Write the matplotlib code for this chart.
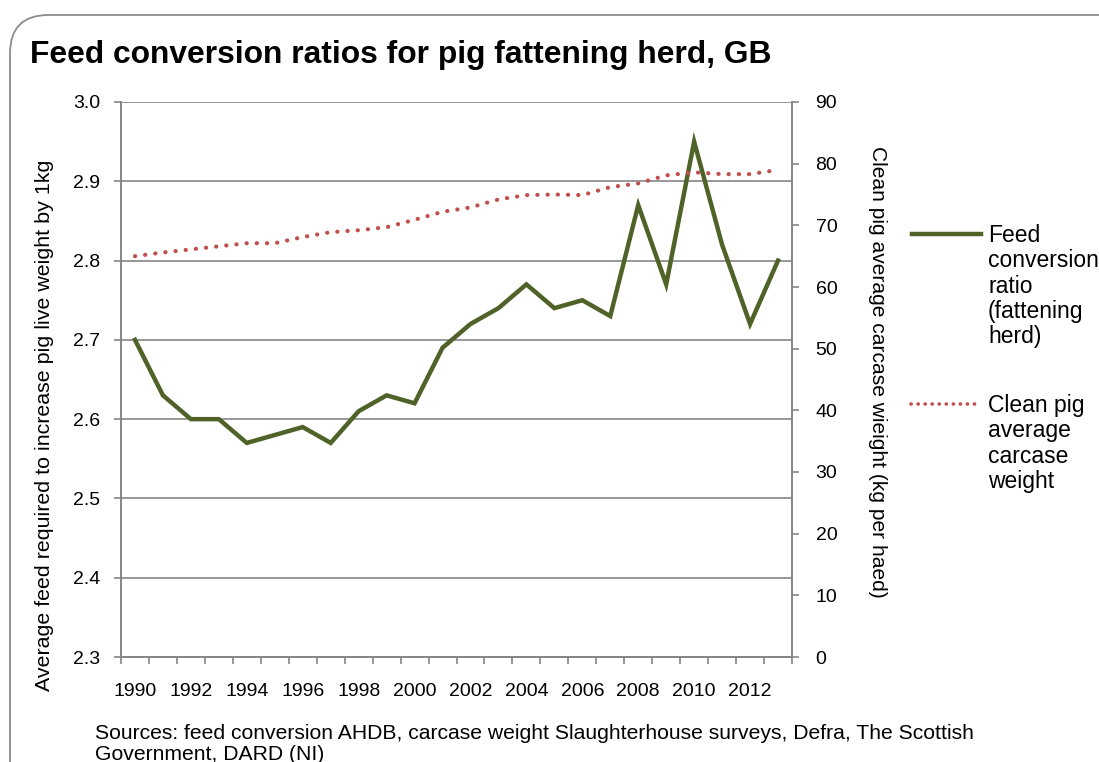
import matplotlib
matplotlib.use('Agg')
import matplotlib.pyplot as plt
import numpy as np
from matplotlib.lines import Line2D
from matplotlib.patches import FancyBboxPatch

plt.rcParams['font.family'] = ['Liberation Sans', 'DejaVu Sans']

# Data
years = list(range(1990, 2014))
feed_conversion = [2.70, 2.63, 2.60, 2.60, 2.57, 2.58, 2.59, 2.57, 2.61, 2.63, 2.62, 2.69,
                   2.72, 2.74, 2.77, 2.74, 2.75, 2.73, 2.87, 2.77, 2.95, 2.82, 2.72, 2.80]
carcase_weight = [65.0, 65.6, 66.1, 66.6, 67.1, 67.1, 68.1, 68.9, 69.2, 69.7, 70.9, 72.2,
                  72.9, 74.2, 74.9, 75.0, 74.9, 76.2, 76.8, 78.1, 78.6, 78.3, 78.3, 79.0]
left_ticks = [2.3, 2.4, 2.5, 2.6, 2.7, 2.8, 2.9, 3.0]
right_ticks = [0, 10, 20, 30, 40, 50, 60, 70, 80, 90]
year_labels = [str(y) for y in years[::2]]

title = 'Feed conversion ratios for pig fattening herd, GB'
left_label = 'Average feed required to increase pig live weight by 1kg'
right_label = 'Clean pig average carcase wieight (kg per haed)'
feed_name = 'Feed\nconversion\nratio\n(fattening\nherd)'
carcase_name = 'Clean pig\naverage\ncarcase\nweight'
sources = ('Sources: feed conversion AHDB, carcase weight Slaughterhouse surveys, Defra, The Scottish\n'
           'Government, DARD (NI)')

green = '#4F6228'
red = '#C0504D'
grey = '#868686'

W, H = 1099, 762
fig = plt.figure(figsize=(W / 100, H / 100), dpi=100)

# rounded frame round the whole chart
frame = FancyBboxPatch((10 / W, 1 - 1000 / H), 1300 / W, (1000 - 15) / H,
                       boxstyle='round,pad=0,rounding_size=0.035',
                       transform=fig.transFigure, fill=False, edgecolor='#8C8C8C', lw=1.3,
                       mutation_aspect=W / H)
fig.add_artist(frame)

ax = fig.add_axes([121 / W, 1 - 657 / H, (792 - 121) / W, (657 - 102) / H])
ax2 = ax.twinx()

x = np.arange(len(years))
ax.plot(x, feed_conversion, color=green, lw=3.2, solid_joinstyle='miter', zorder=3)
ax2.plot(x, carcase_weight, color=red, lw=3.0, linestyle=(0, (0.05, 2.4)),
         dash_capstyle='round', zorder=3)

ax.set_xlim(-0.5, len(years) - 0.5)
ax.set_ylim(2.3, 3.0)
ax2.set_ylim(0, 90)
ax.set_yticks(left_ticks)
ax.set_yticklabels(['%.1f' % t for t in left_ticks])
ax2.set_yticks(right_ticks)

ax.set_xticks(x[::2])
ax.set_xticklabels(year_labels)
ax.set_xticks(np.arange(len(years) + 1) - 0.5, minor=True)
ax.tick_params(axis='x', which='major', length=0, pad=19, labelsize=14)
ax.tick_params(axis='x', which='minor', length=5, width=1.2, color=grey, direction='out')
ax.tick_params(axis='y', length=5, width=1.2, color=grey, pad=10, labelsize=14)
ax2.tick_params(axis='y', length=5, width=1.2, color=grey, pad=12, labelsize=14)

ax.grid(axis='y', color=grey, lw=1.2)
ax.set_axisbelow(True)
for a in (ax, ax2):
    a.spines['top'].set_visible(False)
    for s in ('left', 'right', 'bottom'):
        a.spines[s].set_color(grey)
        a.spines[s].set_linewidth(1.2)

fig.text(30 / W, 1 - 55 / H, title, fontsize=22.9, fontweight='bold', va='center', ha='left')
fig.text(45 / W, 1 - 425 / H, left_label, rotation=90, fontsize=15.4, va='center', ha='center')
fig.text(878 / W, 1 - 372 / H, right_label, rotation=-90, fontsize=15.1, va='center', ha='center')

# legend drawn by hand to the right of the plot
fig.add_artist(Line2D([912 / W, 981 / W], [1 - 234 / H, 1 - 234 / H], color=green, lw=3.2,
                      transform=fig.transFigure))
fig.add_artist(Line2D([911 / W, 981 / W], [1 - 404 / H, 1 - 404 / H], color=red, lw=2.6,
                      linestyle=(0, (0.05, 1.9)), dash_capstyle='round',
                      transform=fig.transFigure))
fig.text(988 / W, 1 - 224 / H, feed_name, fontsize=16.5, va='top', ha='left', linespacing=1.13)
fig.text(988 / W, 1 - 394 / H, carcase_name, fontsize=16.5, va='top', ha='left', linespacing=1.13)

fig.text(95 / W, 1 - 724 / H, sources, fontsize=15.2, va='top', ha='left', linespacing=1.12)

fig.savefig('out.png', dpi=100)
